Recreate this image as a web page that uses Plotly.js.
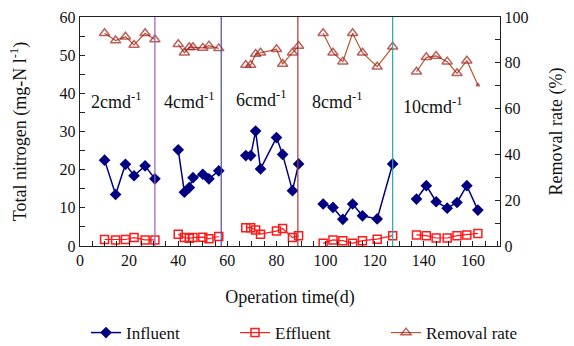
<!DOCTYPE html>
<html>
<head>
<meta charset="utf-8">
<script src="https://cdn.plot.ly/plotly-3.0.1.min.js"></script>
<style>html,body{margin:0;padding:0;background:#fff;}#chart{width:574px;height:346px;}</style>
</head>
<body>
<div id="chart"></div>
<script>
// Operation days for each hydraulic-load stage
const days1 = [10, 14.5, 18.5, 22, 26.5, 30.5];
const days2 = [40, 42.5, 44.5, 46, 50, 52.5, 56.5];
const days3 = [67.5, 69.5, 71.5, 73.5, 80, 82.5, 86.5, 89];
const days4 = [99, 103, 107, 111, 115, 121, 127.3];
const days5 = [137, 141, 145, 149.5, 153.5, 157.5, 162];

// Influent total nitrogen (mg-N/l)
const influent1 = [22.5, 13.5, 21.4, 18.4, 21.0, 17.6];
const influent2 = [25.2, 14.1, 15.3, 17.9, 18.8, 17.6, 19.7];
const influent3 = [23.7, 23.7, 30.1, 20.2, 28.4, 24.0, 14.5, 21.5];
const influent4 = [11.0, 10.1, 7.0, 11.0, 7.9, 7.1, 21.5];
const influent5 = [12.3, 15.8, 11.6, 9.9, 11.4, 15.8, 9.4];

// Effluent total nitrogen (mg-N/l)
const effluent1 = [1.7, 1.6, 1.7, 2.2, 1.6, 1.6];
const effluent2 = [3.1, 2.2, 2.0, 2.2, 2.3, 1.9, 2.5];
const effluent3 = [4.8, 4.8, 4.2, 3.1, 3.9, 4.6, 2.2, 2.7];
const effluent4 = [0.7, 1.6, 1.4, 0.7, 1.4, 1.8, 2.7];
const effluent5 = [2.9, 2.7, 2.1, 2.1, 2.7, 2.9, 3.3];

// Removal rate (%)
const removal1 = [92.9, 89.7, 91.4, 87.8, 92.9, 90.2];
const removal2 = [88.1, 84.4, 86.8, 86.8, 86.5, 87.5, 86.3];
const removal3 = [79.0, 79.0, 83.8, 84.4, 85.9, 79.5, 84.4, 87.3];
const removal4 = [92.9, 84.4, 80.5, 92.9, 84.4, 78.3, 87.0];
const removal5 = [76.1, 82.4, 83.0, 80.5, 75.4, 80.9, 70.3];

// Stage labels, label anchor positions (day, mg-N/l) and stage boundaries (day)
const stageLabels = ["2cmd<sup>-1</sup>", "4cmd<sup>-1</sup>", "6cmd<sup>-1</sup>", "8cmd<sup>-1</sup>", "10cmd<sup>-1</sup>"];
const stageLabelDays = [14.7, 44.4, 74, 104.7, 143.9];
const stageLabelLevels = [38.2, 38.2, 38.6, 38.2, 36.9];
const stageBoundaries = [30.5, 57.5, 88.7, 127.3];
const boundaryColors = ["#9a5fb5", "#4a4aa8", "#a43a3a", "#2aa5a5"];

const seriesNames = ["Influent", "Effluent", "Removal rate"];

function joinSegments(segs) {
  const out = [];
  segs.forEach((s, i) => { if (i > 0) out.push(null); out.push(...s); });
  return out;
}
const allDays = joinSegments([days1, days2, days3, days4, days5]);
const allInfluent = joinSegments([influent1, influent2, influent3, influent4, influent5]);
const allEffluent = joinSegments([effluent1, effluent2, effluent3, effluent4, effluent5]);
const allRemoval = joinSegments([removal1, removal2, removal3, removal4, removal5]);
const removalSizes = allRemoval.map((v, i) => i === allRemoval.length - 1 ? 3 : 9);

const font = "Liberation Serif, Times New Roman, serif";

const traces = [
  {x: allDays, y: allInfluent, name: seriesNames[0], mode: "lines+markers", connectgaps: false, legend: "legend",
   line: {color: "#000080", width: 1.5},
   marker: {symbol: "diamond", size: 9, color: "#000080"}},
  {x: allDays, y: allEffluent, name: seriesNames[1], mode: "lines+markers", connectgaps: false, legend: "legend2",
   line: {color: "#ff1a1a", width: 1.2},
   marker: {symbol: "square-open", size: 8, color: "#ff1a1a", line: {width: 1.5}}},
  {x: allDays, y: allRemoval, name: seriesNames[2], mode: "lines+markers", connectgaps: false, yaxis: "y2", legend: "legend3",
   line: {color: "#b9582c", width: 1.2},
   marker: {symbol: "triangle-up-open", size: removalSizes, color: "#a01e1e", line: {width: 1.5}}}
];

const shapes = stageBoundaries.map((d, i) => ({
  type: "line", xref: "x", yref: "paper", x0: d, x1: d, y0: 0, y1: 1,
  line: {color: boundaryColors[i], width: 1.2}
}));

const annotations = stageLabels.map((t, i) => ({
  text: t, x: stageLabelDays[i], y: stageLabelLevels[i], xref: "x", yref: "y",
  showarrow: false, font: {family: font, size: 18, color: "#111"}
}));

function legendAt(px) {
  return {orientation: "h", x: (px - 80) / 420, xanchor: "left", y: -0.38, yanchor: "middle",
          bgcolor: "rgba(0,0,0,0)", font: {family: font, size: 17, color: "#111"}};
}

const layout = {
  width: 574, height: 346,
  margin: {l: 80, r: 74, t: 17, b: 100, autoexpand: false},
  paper_bgcolor: "#fff", plot_bgcolor: "#fff",
  font: {family: font, size: 16, color: "#111"},
  showlegend: true,
  legend: legendAt(86),
  legend2: legendAt(235),
  legend3: legendAt(386),
  xaxis: {range: [0, 171], dtick: 20, tick0: 0, showgrid: false, zeroline: false,
          showline: true, linecolor: "#222", linewidth: 1.2, mirror: true,
          ticks: "inside", ticklen: 5, tickcolor: "#222",
          tickfont: {family: font, size: 16},
          minor: {dtick: 5, tick0: 0, ticks: "inside", ticklen: 5, tickcolor: "#222"},
          title: {text: "Operation time(d)", font: {family: font, size: 18}, standoff: 22}},
  yaxis: {range: [0, 60], dtick: 10, showgrid: false, zeroline: false,
          showline: true, linecolor: "#222", linewidth: 1.2,
          ticks: "inside", ticklen: 5, tickcolor: "#222",
          tickfont: {family: font, size: 16},
          minor: {dtick: 5, ticks: "inside", ticklen: 5, tickcolor: "#222"},
          title: {text: "Total nitrogen (mg-N l<sup>-1</sup>)", font: {family: font, size: 18}, standoff: 28}},
  yaxis2: {range: [0, 100], dtick: 20, overlaying: "y", side: "right", showgrid: false, zeroline: false,
           showline: true, linecolor: "#222", linewidth: 1.2,
           ticks: "inside", ticklen: 5, tickcolor: "#222",
           tickfont: {family: font, size: 16},
           minor: {dtick: 10, ticks: "inside", ticklen: 5, tickcolor: "#222"},
           title: {text: "Removal rate (%)", font: {family: font, size: 18}, standoff: 22}},
  shapes: shapes,
  annotations: annotations
};

Plotly.newPlot("chart", traces, layout, {displayModeBar: false, staticPlot: true});
</script>
</body>
</html>
